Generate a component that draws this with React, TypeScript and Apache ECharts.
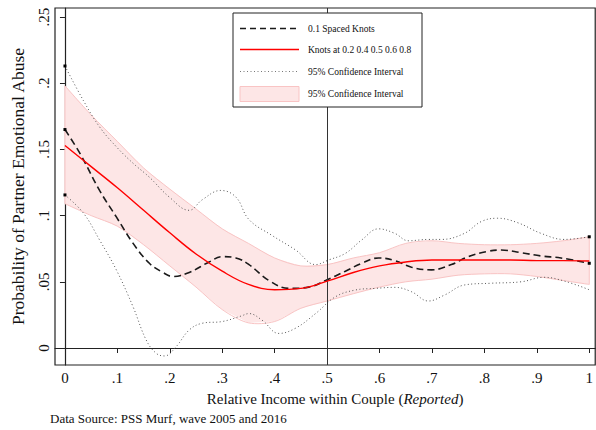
import React, { useEffect, useRef } from "react";
import * as echarts from "echarts";

// 0.1 spaced knots (dashed)
const dashedPts: number[][] = [
  [0, 0.165], [0.03, 0.146], [0.066, 0.119], [0.098, 0.099], [0.13, 0.079], [0.161, 0.064],
  [0.187, 0.057], [0.206, 0.054], [0.237, 0.057], [0.275, 0.065], [0.3, 0.069], [0.326, 0.068],
  [0.351, 0.063], [0.389, 0.051], [0.427, 0.045], [0.465, 0.046], [0.497, 0.051], [0.535, 0.058],
  [0.566, 0.064], [0.598, 0.068], [0.629, 0.066], [0.661, 0.061], [0.699, 0.059], [0.737, 0.063],
  [0.769, 0.069], [0.806, 0.073], [0.832, 0.074], [0.87, 0.072], [0.908, 0.0695], [0.946, 0.068],
  [1, 0.064],
];

// dotted 95% CI (upper / lower) around dashed curve
const dottedUpper: number[][] = [
  [0, 0.213], [0.035, 0.187], [0.066, 0.167], [0.098, 0.152], [0.13, 0.1395], [0.161, 0.129],
  [0.199, 0.114], [0.237, 0.104], [0.262, 0.112], [0.297, 0.119], [0.326, 0.114], [0.351, 0.097],
  [0.395, 0.085], [0.44, 0.074], [0.478, 0.063], [0.503, 0.0665], [0.535, 0.0715], [0.566, 0.0816],
  [0.598, 0.09], [0.629, 0.0866], [0.655, 0.081], [0.693, 0.082], [0.718, 0.082], [0.762, 0.0866],
  [0.794, 0.0955], [0.825, 0.098], [0.863, 0.0947], [0.908, 0.0866], [0.952, 0.082], [1, 0.084],
];
const dottedLower: number[][] = [
  [0, 0.1156], [0.035, 0.102], [0.066, 0.0816], [0.098, 0.059], [0.13, 0.031], [0.155, 0.006],
  [0.174, -0.004], [0.19, -0.006], [0.212, 0.001], [0.237, 0.0136], [0.262, 0.0187], [0.3, 0.02],
  [0.335, 0.024], [0.351, 0.026], [0.376, 0.021], [0.408, 0.011], [0.44, 0.015], [0.478, 0.026],
  [0.516, 0.0387], [0.554, 0.0438], [0.591, 0.045], [0.629, 0.0458], [0.661, 0.0425], [0.693, 0.0355],
  [0.724, 0.04], [0.762, 0.0476], [0.812, 0.0489], [0.87, 0.05], [0.914, 0.0534], [0.952, 0.0506],
  [1, 0.044],
];

// Knots at 0.2 0.4 0.5 0.6 0.8 (red) and its shaded CI
const bandX = [0, 0.05, 0.1, 0.15, 0.2, 0.25, 0.3, 0.35, 0.4, 0.45, 0.5, 0.55, 0.6, 0.65, 0.7, 0.75, 0.8, 0.85, 0.9, 0.95, 1];
const redY = [0.153, 0.137, 0.121, 0.104, 0.087, 0.071, 0.058, 0.048, 0.044, 0.045, 0.0505, 0.057, 0.062, 0.065, 0.0665, 0.0665, 0.0665, 0.0665, 0.066, 0.066, 0.0657];
const bandUpper = [0.198, 0.176, 0.156, 0.136, 0.12, 0.105, 0.09, 0.079, 0.068, 0.062, 0.063, 0.068, 0.072, 0.079, 0.081, 0.079, 0.078, 0.078, 0.079, 0.081, 0.084];
const bandLower = [0.109, 0.1, 0.092, 0.078, 0.062, 0.046, 0.029, 0.019, 0.02, 0.03, 0.0355, 0.041, 0.046, 0.05, 0.052, 0.055, 0.056, 0.056, 0.054, 0.051, 0.048];

const xTicks = [0, 0.1, 0.2, 0.3, 0.4, 0.5, 0.6, 0.7, 0.8, 0.9, 1];
const yTicks = [0, 0.05, 0.1, 0.15, 0.2, 0.25];
const cutoff = 0.5;

const legendLabels = ["0.1 Spaced Knots", "Knots at 0.2 0.4 0.5 0.6 0.8", "95% Confidence Interval", "95% Confidence Interval"];
const sourceNote = "Data Source: PSS Murf, wave 2005 and 2016";

const SERIF = "Liberation Serif";

const fmt = (v: number) => {
  const s = String(Number(v.toFixed(3)));
  return s.replace(/^0\./, ".");
};

const endSymbol = (first: boolean, last: boolean, n: number) => (_v: any, p: any) =>
  (first && p.dataIndex === 0) || (last && p.dataIndex === n - 1) ? "rect" : "none";

export default function App() {
  const ref = useRef<HTMLDivElement>(null);
  useEffect(() => {
    if (!ref.current) return;
    const chart = echarts.init(ref.current, null, { renderer: "svg" });
    const pink = "#fde6e6";
    const pinkLine = "#f9c4c4";
    const rows = [28.5, 49.5, 71.5, 94];
    const bandData = bandX.map((x, i) => [x, bandLower[i], bandUpper[i]]);
    const txt = (t: string, x: number, y: number, size: number) => ({
      type: "text", x, y, z: 101,
      style: { text: t, fill: "#111", fontSize: size, fontFamily: SERIF, verticalAlign: "middle", align: "left" },
    });
    const option: any = {
      animation: false,
      backgroundColor: "#fff",
      textStyle: { fontFamily: SERIF },
      grid: {
        left: 55, top: 8, right: -2, bottom: 65,
        show: true, borderColor: "#222", borderWidth: 1.2, backgroundColor: "transparent",
      },
      xAxis: {
        type: "value",
        min: -0.019, max: 1.0114,
        axisLine: { show: true, lineStyle: { color: "#222", width: 1.2 } },
        axisTick: { show: true, length: 5, customValues: xTicks, lineStyle: { color: "#222" } },
        axisLabel: { customValues: xTicks, formatter: fmt, fontSize: 15, color: "#111", fontFamily: SERIF, margin: 5 },
        splitLine: { show: false },
        name: "Relative Income within Couple ({i|Reported})",
        nameLocation: "middle",
        nameGap: 26,
        nameTextStyle: {
          fontSize: 15, color: "#111", fontFamily: SERIF, padding: [0, 0, 0, 20],
          rich: { i: { fontStyle: "italic", fontSize: 15, fontFamily: SERIF, color: "#111" } },
        },
      },
      yAxis: {
        type: "value",
        min: -0.01284, max: 0.2568,
        axisLine: { show: true, lineStyle: { color: "#222", width: 1.2 } },
        axisTick: { show: true, length: 5, customValues: yTicks, lineStyle: { color: "#222" } },
        axisLabel: { customValues: yTicks, formatter: fmt, fontSize: 15, color: "#111", fontFamily: SERIF, rotate: 90, margin: 4 },
        splitLine: { show: false },
        name: "Probability of Partner Emotional Abuse",
        nameLocation: "middle",
        nameGap: 28,
        nameTextStyle: { fontSize: 17.5, color: "#111", fontFamily: SERIF },
      },
      series: [
        {
          name: "band", type: "custom", z: 1, silent: true,
          data: bandData,
          encode: { x: 0, y: [1, 2] },
          renderItem: (params: any, api: any) => {
            if (params.dataIndex !== 0) return null;
            const up = bandData.map((d) => api.coord([d[0], d[2]]));
            const lo = bandData.map((d) => api.coord([d[0], d[1]])).reverse();
            return {
              type: "group",
              children: [
                { type: "polygon", shape: { points: up.concat(lo) }, style: { fill: pink, stroke: "none" } },
                { type: "polyline", shape: { points: up, smooth: 0.3 }, style: { fill: "none", stroke: pinkLine, lineWidth: 1 } },
                { type: "polyline", shape: { points: lo, smooth: 0.3 }, style: { fill: "none", stroke: pinkLine, lineWidth: 1 } },
                { type: "line", shape: { x1: up[up.length - 1][0], y1: up[up.length - 1][1], x2: lo[0][0], y2: lo[0][1] }, style: { stroke: pinkLine, lineWidth: 1 } },
                { type: "line", shape: { x1: up[0][0], y1: up[0][1], x2: lo[lo.length - 1][0], y2: lo[lo.length - 1][1] }, style: { stroke: pinkLine, lineWidth: 1 } },
              ],
            };
          },
        },
        {
          name: "cutoff", type: "line", data: [], symbol: "none",
          markLine: {
            silent: true, symbol: "none", label: { show: false },
            lineStyle: { color: "#333", width: 1, type: "solid" },
            data: [{ xAxis: cutoff }],
          },
          z: 2,
        },
        {
          name: "ciUpper", type: "line", smooth: 0.4, data: dottedUpper,
          symbol: endSymbol(true, true, dottedUpper.length), symbolSize: 3, showSymbol: true,
          itemStyle: { color: "#000" },
          lineStyle: { color: "#555", width: 1, type: [1, 2.5] }, z: 3,
        },
        {
          name: "ciLower", type: "line", smooth: 0.4, data: dottedLower,
          symbol: endSymbol(true, false, dottedLower.length), symbolSize: 3, showSymbol: true,
          itemStyle: { color: "#000" },
          lineStyle: { color: "#555", width: 1, type: [1, 2.5] }, z: 3,
        },
        {
          name: "dashed", type: "line", smooth: 0.4, data: dashedPts,
          symbol: endSymbol(true, true, dashedPts.length), symbolSize: 3, showSymbol: true,
          itemStyle: { color: "#000" },
          lineStyle: { color: "#1a1a1a", width: 1.6, type: [7, 4] }, z: 4,
        },
        {
          name: "red", type: "line", smooth: 0.4, symbol: "none",
          data: bandX.map((x, i) => [x, redY[i]]),
          lineStyle: { color: "#ff0000", width: 1.4 }, z: 5,
        },
      ],
      graphic: [
        { type: "rect", z: 100, shape: { x: 233, y: 13, width: 189, height: 94 }, style: { fill: "#fff", stroke: "#222", lineWidth: 1 } },
        { type: "line", z: 101, shape: { x1: 240, y1: rows[0], x2: 299, y2: rows[0] }, style: { stroke: "#1a1a1a", lineWidth: 1.6, lineDash: [6, 4] } },
        { type: "line", z: 101, shape: { x1: 240, y1: rows[1], x2: 299, y2: rows[1] }, style: { stroke: "#ff0000", lineWidth: 1.4 } },
        { type: "line", z: 101, shape: { x1: 240, y1: rows[2], x2: 299, y2: rows[2] }, style: { stroke: "#777", lineWidth: 1, lineDash: [1, 2.5] } },
        { type: "rect", z: 101, shape: { x: 240, y: 86.5, width: 59, height: 15 }, style: { fill: pink, stroke: pinkLine, lineWidth: 1 } },
        txt(legendLabels[0], 308, rows[0], 9.5),
        txt(legendLabels[1], 308, rows[1], 9.5),
        txt(legendLabels[2], 308, rows[2], 9.5),
        txt(legendLabels[3], 308, rows[3], 9.5),
        txt(sourceNote, 50, 418, 13),
      ],
    };
    chart.setOption(option);
    return () => chart.dispose();
  }, []);
  return <div ref={ref} style={{ position: "absolute", left: 0, top: 0, width: 596, height: 430 }} />;
}
